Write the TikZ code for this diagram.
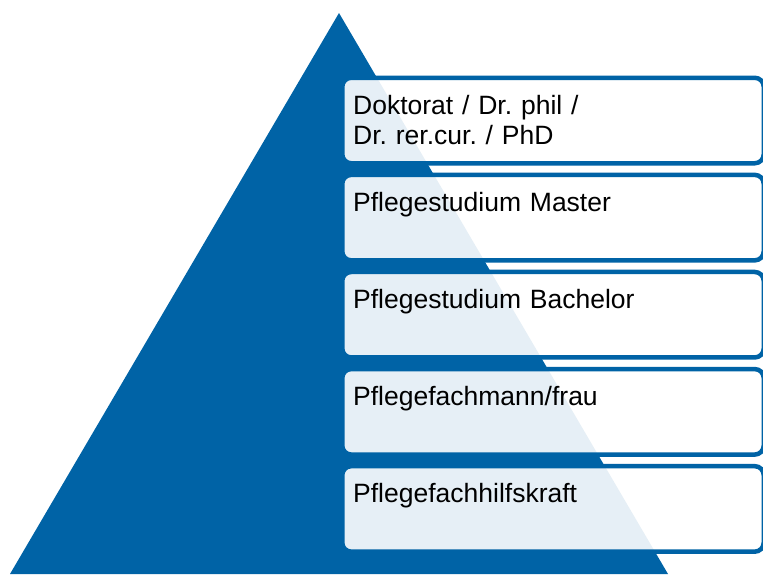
\documentclass[tikz,border=0pt]{standalone}
\usepackage{fontspec}
\setmainfont{Liberation Sans}
\definecolor{pyrblue}{RGB}{0,99,166}
\begin{document}
\frenchspacing
\begin{tikzpicture}[x=1pt,y=-1pt,
  levelbox/.style={draw=pyrblue, line width=4.5pt, fill=white, fill opacity=0.9,
    rounded corners=9pt, minimum width=421.5pt, minimum height=85.5pt,
    anchor=north west, inner sep=0pt},
  leveltext/.style={anchor=base west, inner sep=0pt, text width=380pt, align=left,
    font=\fontsize{26.5}{30}\selectfont\frenchspacing, text=black}]
\useasboundingbox (0,0) rectangle (763,574);
\fill[pyrblue] (339,13) -- (668,574) -- (10,574) -- cycle;
\foreach \i/\txt in {1/{Doktorat / Dr. phil /\\Dr. rer.cur. / PhD},
                     2/{Pflegestudium Master},
                     3/{Pflegestudium Bachelor},
                     4/{Pflegefachmann/frau},
                     5/{Pflegefachhilfskraft}}{
  \node[levelbox] (b\i) at (340, {75.5+97.1*(\i-1)}) {};
  \node[leveltext] (t\i) at ([xshift=13pt,yshift=-38.5pt]b\i.north west) {\txt};
}
\end{tikzpicture}
\end{document}
